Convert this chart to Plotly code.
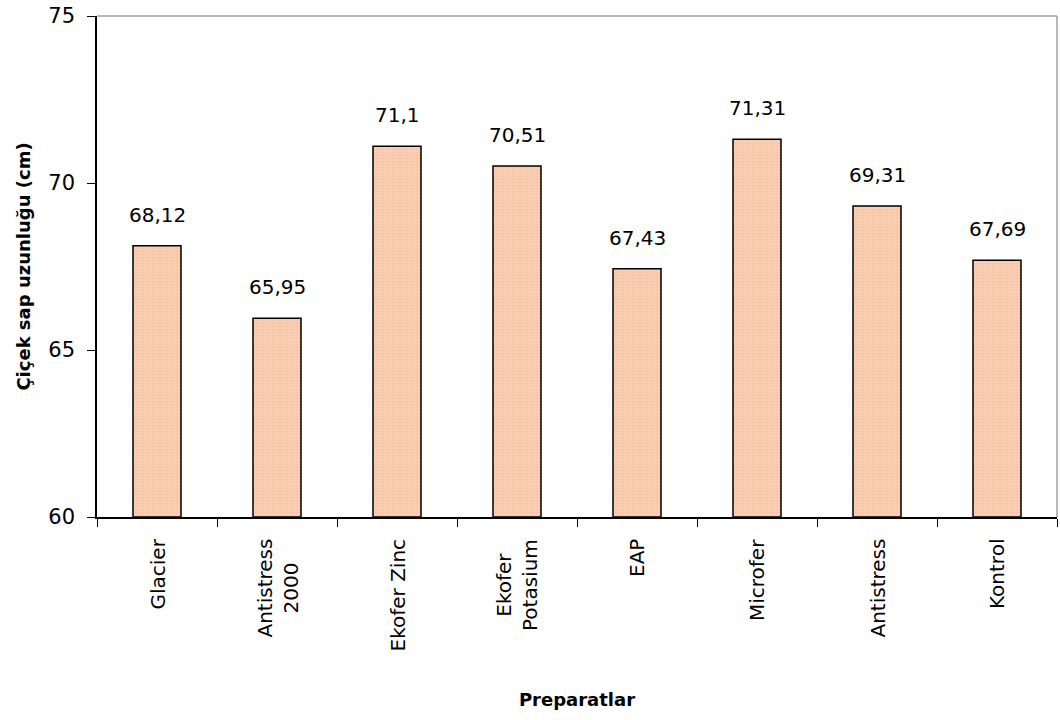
import plotly.graph_objects as go

categories = ["Glacier", "Antistress<br>2000", "Ekofer Zinc", "Ekofer<br>Potasium",
              "EAP", "Microfer", "Antistress", "Kontrol"]
values = [68.12, 65.95, 71.10, 70.51, 67.43, 71.31, 69.31, 67.69]
labels = [f"{v:g}".replace(".", ",") for v in values]
y_ticks = [60, 65, 70, 75]

FONT = "DejaVu Sans, Noto Sans, sans-serif"

fig = go.Figure()
fig.add_trace(go.Bar(
    x=categories, y=[v - 60 for v in values], base=60,
    width=0.4,
    marker=dict(color="#FAD0B4", line=dict(color="black", width=1.5),
                pattern=dict(shape=".", fgcolor="#F0B090", size=3, solidity=0.3)),
    hoverinfo="skip",
))
for c, v, t in zip(categories, values, labels):
    fig.add_annotation(x=c, y=v, text=t, showarrow=False, yanchor="middle",
                       yshift=31, font=dict(family=FONT, size=20, color="black"))
# category labels, rotated, lines centred
for c in categories:
    fig.add_annotation(x=c, y=0, xref="x", yref="paper", text=c, showarrow=False,
                       textangle=-90, align="center", xanchor="center", yanchor="top",
                       yshift=-20, font=dict(family=FONT, size=20, color="black"))

fig.add_shape(type="line", xref="paper", yref="paper", x0=0, x1=1, y0=1, y1=1,
              line=dict(color="#A0A0A0", width=1.5))
fig.add_shape(type="line", xref="paper", yref="paper", x0=1, x1=1, y0=0, y1=1,
              line=dict(color="#A0A0A0", width=1.5))

fig.update_layout(
    width=1060, height=720,
    margin=dict(l=97, r=3, t=16, b=203),
    paper_bgcolor="white", plot_bgcolor="white",
    showlegend=False,
    font=dict(family=FONT, size=20, color="black"),
    xaxis=dict(
        title=dict(text="<b>Preparatlar</b>", font=dict(size=18), standoff=176),
        ticks="outside", tickson="boundaries", ticklen=8, showticklabels=False,
        tickcolor="black", showline=True, linecolor="black", linewidth=1.5,
    ),
    yaxis=dict(
        title=dict(text="<b>Çiçek sap uzunluğu (cm)</b>", font=dict(size=18), standoff=13),
        range=[60, 75], tickvals=y_ticks, ticks="outside", ticklen=8,
        tickcolor="black", showline=True, linecolor="black", linewidth=1.5,
        showgrid=False, zeroline=False, tickfont=dict(size=21), ticklabelstandoff=8,
    ),
)

fig.write_html("out.html")
